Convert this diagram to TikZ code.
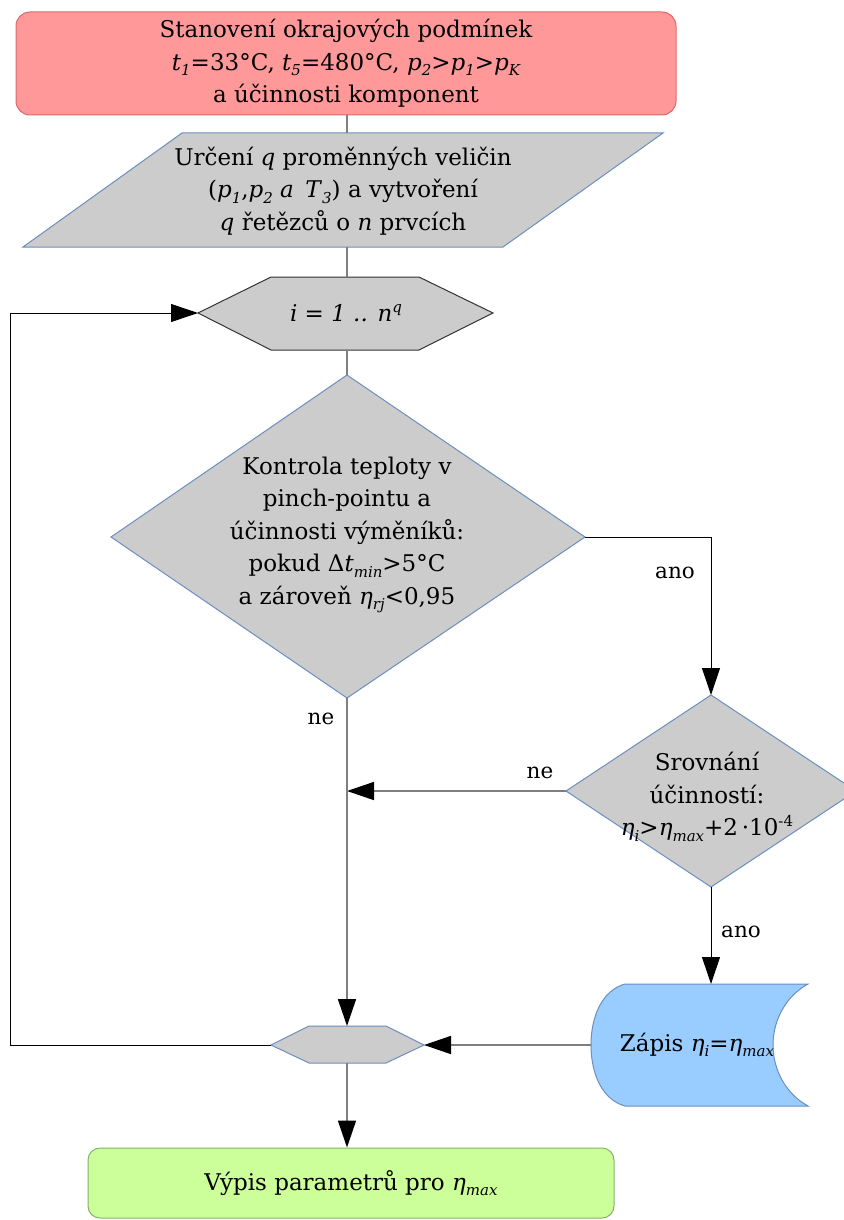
\documentclass[tikz,border=0pt]{standalone}
\usepackage{fontspec}
\setmainfont{DejaVu Serif}
\usetikzlibrary{arrows.meta}
\definecolor{redfill}{HTML}{FF9999}
\definecolor{redline}{HTML}{E06666}
\definecolor{grayfill}{HTML}{CCCCCC}
\definecolor{blueline}{HTML}{6C8EBF}
\definecolor{bluefill}{HTML}{99CCFF}
\definecolor{greenfill}{HTML}{CCFF99}
\definecolor{greenline}{HTML}{82B366}
\definecolor{conngray}{HTML}{7F7F7F}
\newcommand\lsub[1]{\raisebox{-0.45ex}{\fontsize{15}{15}\selectfont\itshape #1}}
\newcommand\lsup[1]{\raisebox{0.75ex}{\fontsize{15}{15}\selectfont #1}}
\tikzset{
  txt/.style={align=center, font=\fontsize{23}{32.5}\selectfont, inner sep=0pt},
  lbl/.style={font=\fontsize{21.5}{26}\selectfont, inner sep=0pt},
  redbox/.style={txt, draw=redline, fill=redfill, line width=1pt, rounded corners=14pt, minimum width=660pt, minimum height=103pt},
  greenbox/.style={txt, draw=greenline, fill=greenfill, line width=1pt, rounded corners=12pt, minimum width=526pt, minimum height=70pt},
  grayshape/.style={draw=blueline, fill=grayfill, line width=1pt},
  darkshape/.style={draw=black!80, fill=grayfill, line width=1pt},
  blueshape/.style={draw=blueline, fill=bluefill, line width=1pt},
  gline/.style={draw=conngray, line width=1.6pt},
  bline/.style={draw=black, line width=1pt},
  tip/.style={-{Triangle[length=27pt,width=18pt,color=black]}},
}
\begin{document}
\begin{tikzpicture}[x=1pt,y=-1pt]
\useasboundingbox (0,0) rectangle (843,1220);

% start box
\node[redbox] (start) at (346,63.5) {Stanovení okrajových podmínek\\
\textit{t}\lsub{1}=33°C, \textit{t}\lsub{5}=480°C, \textit{p}\lsub{2}>\textit{p}\lsub{1}>\textit{p}\lsub{K}\\
a účinnosti komponent};

% parallelogram
\draw[grayshape] (182,133) -- (663,133) -- (503,247) -- (23,247) -- cycle;
\coordinate (parT) at (347,133);
\coordinate (parB) at (347,247);
\node[txt] (par) at (343,191) {Určení \textit{q} proměnných veličin\\
(\textit{p}\lsub{1},\textit{p}\lsub{2} \textit{a}\enspace \textit{T}\lsub{3}) a vytvoření\\
\textit{q} řetězců o \textit{n} prvcích};

% loop hexagon
\draw[darkshape] (198,313) -- (271,277) -- (419,277) -- (493,313) -- (419,350) -- (271,350) -- cycle;
\coordinate (hexT) at (347,277);
\coordinate (hexB) at (347,350);
\coordinate (hexL) at (198,313);
\node[txt] (loop) at (346,313) {\textit{i = 1 .. n}\lsup{\textit{q}}};

% big decision
\draw[grayshape] (347,375) -- (585,537) -- (347,698) -- (111,537) -- cycle;
\coordinate (dT) at (347,375);
\coordinate (dR) at (585,537);
\coordinate (dB) at (347,698);
\node[txt] (check) at (347,535) {Kontrola teploty v\\ pinch-pointu a\\ účinnosti výměníků:\\
pokud Δ\textit{t}\lsub{min}>5°C\\ a zároveň \textit{η}\lsub{rj}<0,95};

% small decision
\draw[grayshape] (711,695) -- (856,791) -- (711,887) -- (566,791) -- cycle;
\coordinate (sdT) at (711,695);
\coordinate (sdL) at (566,791);
\coordinate (sdB) at (711,887);
\node[txt] (cmp) at (707,797) {Srovnání\\ účinností:\\
\textit{η}\lsub{i}>\textit{η}\lsub{max}+2\,·10\lsup{-4}};

% storage
\draw[blueshape] (625,984) -- (808,984)
  .. controls (786,996) and (773,1020) .. (773,1045)
  .. controls (773,1070) and (786,1094) .. (808,1106)
  -- (625,1106)
  .. controls (603,1100) and (591,1075) .. (591,1045)
  .. controls (591,1015) and (603,990) .. (625,984) -- cycle;
\coordinate (stT) at (711,984);
\coordinate (stL) at (591,1045);
\node[txt] (store) at (697,1045) {Zápis \textit{η}\lsub{i}=\textit{η}\lsub{max}};

% merge hexagon
\draw[grayshape] (271,1045) -- (309,1026) -- (386,1026) -- (424,1045) -- (386,1063) -- (309,1063) -- cycle;
\coordinate (mT) at (347,1026);
\coordinate (mB) at (347,1063);
\coordinate (mL) at (271,1045);
\coordinate (mR) at (424,1045);
\coordinate (j1) at (347,791);
\coordinate (loopc) at (10,1045);

% end box
\node[greenbox] (end) at (351,1183) {Výpis parametrů pro \textit{η}\lsub{max}};

% connectors
\draw[gline] (parT |- start.south) -- (parT);
\draw[gline] (parB) -- (hexT);
\draw[gline] (hexB) -- (dT);
\draw[bline,tip] (dR) -| (sdT);
\draw[gline,tip] (sdL) -- (j1);
\draw[gline,tip] (dB) -- (mT);
\draw[bline,tip] (sdB) -- (stT);
\draw[gline,tip] (stL) -- (mR);
\draw[bline,tip] (mL) -- (loopc) |- (hexL);
\draw[gline,tip] (mB) -- (mB |- end.north);

% labels
\node[lbl] at (675,573) {ano};
\node[lbl] at (321,719) {ne};
\node[lbl] at (540,773) {ne};
\node[lbl] at (741,932) {ano};
\end{tikzpicture}
\end{document}
